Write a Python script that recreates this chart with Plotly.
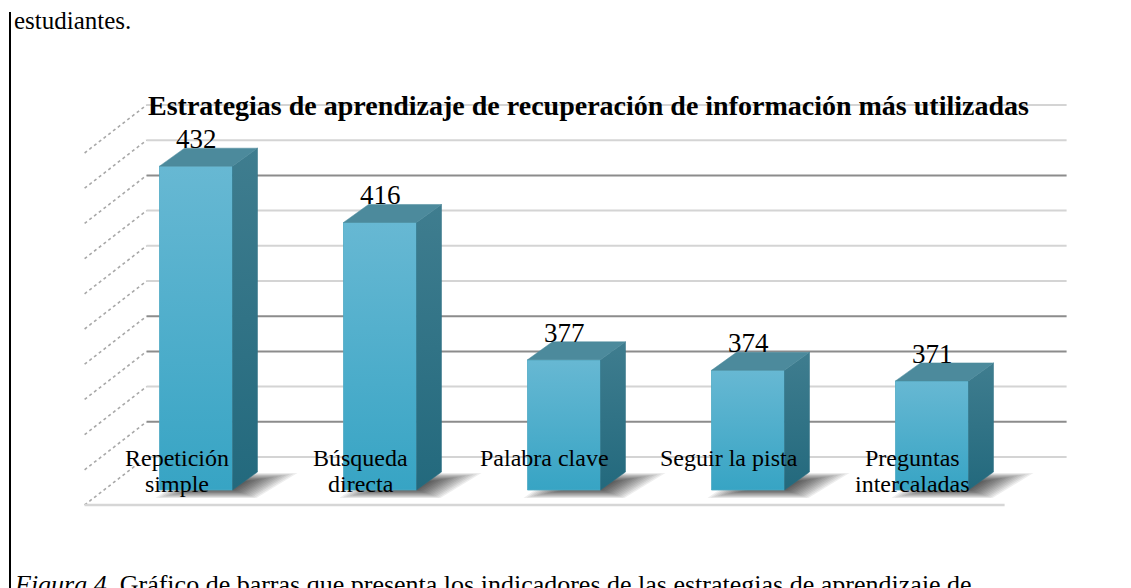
import plotly.graph_objects as go

# ---------------- data ----------------
categories = ["Repetición<br>simple", "Búsqueda<br>directa", "Palabra clave",
              "Seguir la pista", "Preguntas<br>intercaladas"]
values = [432, 416, 377, 374, 371]
grid_values = [340, 350, 360, 370, 380, 390, 400, 410, 420, 430, 440]
dark_grid = [350, 370, 380, 420]
axis_min = 340
chart_title = "Estrategias de aprendizaje de recuperación de información más utilizadas"
doc_top_text = "estudiantes."
caption_italic = "Figura 4."
caption_rest = " Gráfico de barras que presenta los indicadores de las estrategias de aprendizaje de"

# ---------------- geometry (layout constants, page pixels) ----------------
W, H = 1131, 588
OFF = 8                 # default page body margin
FW, FH = W - OFF, H - OFF
PX_CAT = 184.0          # pixels per category
X0_PX = 196.0 - OFF     # first category centre (front plane), figure px
PPU = 3.52              # pixels per value unit
BASE_PX = 490.0 - OFF   # axis_min row on bar front plane, figure px

def ux(px):
    return px / PX_CAT

def uy(px):
    return px / PPU

def yval(page_px):      # page pixel row -> value units
    return axis_min + (BASE_PX - (page_px - OFF)) / PPU

xrange_ = [-X0_PX / PX_CAT, (FW - X0_PX) / PX_CAT]
yrange_ = [axis_min - (FH - BASE_PX) / PPU, axis_min + BASE_PX / PPU]

half_w = ux(36.5)
bar_dx, bar_dy = ux(25), uy(18)
wall_dx, wall_dy = ux(42.6), uy(33)
floor_dx, floor_dy = ux(-19.4), uy(-15)

n = len(values)
x_left_front = -0.5
x_right_front = n - 0.5

fig = go.Figure()

def poly(xs, ys, color=None, grad=None, opacity=1.0, line=None):
    kw = dict(x=xs + [xs[0]], y=ys + [ys[0]], mode="lines", fill="toself",
              line=line or dict(width=0), hoverinfo="skip", showlegend=False,
              opacity=opacity)
    if grad:
        kw["fillgradient"] = dict(type="vertical", colorscale=grad)
    else:
        kw["fillcolor"] = color
    fig.add_trace(go.Scatter(**kw))

# back-wall gridlines and side-wall diagonals
for v in grid_values:
    col = "#8c8c8c" if v in dark_grid else "#d4d4d4"
    fig.add_trace(go.Scatter(
        x=[x_left_front + wall_dx, x_right_front + wall_dx],
        y=[v + wall_dy, v + wall_dy], mode="lines",
        line=dict(color=col, width=2), hoverinfo="skip", showlegend=False))
    fig.add_trace(go.Scatter(
        x=[x_left_front + floor_dx, x_left_front + wall_dx],
        y=[v + floor_dy, v + wall_dy], mode="lines",
        line=dict(color="#a8a8a8", width=1.6, dash="dot"),
        hoverinfo="skip", showlegend=False))

# floor front edge
fig.add_trace(go.Scatter(
    x=[x_left_front + floor_dx, x_right_front + floor_dx],
    y=[axis_min + floor_dy, axis_min + floor_dy], mode="lines",
    line=dict(color="#d6d6d6", width=2.5), hoverinfo="skip", showlegend=False))

# bars
for i, v in enumerate(values):
    xl, xr = i - half_w, i + half_w
    b = axis_min
    # soft shadow on the floor: stacked translucent footprints
    sx = [xl - ux(4), xr + ux(24), xr + bar_dx + ux(40), xl + bar_dx + ux(6)]
    sy = [b - uy(8), b - uy(8), b + bar_dy - uy(1), b + bar_dy - uy(1)]
    cx = sum(sx) / 4 - ux(4)
    cy = sum(sy) / 4
    for k in range(14):
        s = 1.0 - k * 0.05
        poly([cx + (p - cx) * s for p in sx], [cy + (q - cy) * s for q in sy],
             color="rgb(0,0,0)", opacity=0.065)
    # front face
    poly([xl, xr, xr, xl], [b, b, v, v],
         grad=[[0, "#37a4c4"], [1, "#67b8d3"]],
         line=dict(width=0.8, color="#4fa9c4"))
    # side face
    poly([xr, xr + bar_dx, xr + bar_dx, xr], [b, b + bar_dy, v + bar_dy, v],
         grad=[[0, "#23697d"], [1, "#3f7d8f"]],
         line=dict(width=0.5, color="#2c6f82"))
    # top face
    poly([xl, xr, xr + bar_dx, xl + bar_dx], [v, v, v + bar_dy, v + bar_dy],
         color="#4c8a9c", line=dict(width=0.5, color="#4c8a9c"))

annotations = []
serif = "Liberation Serif, Times New Roman, serif"

# value labels
for i, v in enumerate(values):
    annotations.append(dict(x=i, y=v + bar_dy + uy(9), xref="x", yref="y",
                            text=str(v), showarrow=False, xanchor="center",
                            yanchor="middle",
                            font=dict(family=serif, size=27, color="#000")))
# category labels (one annotation per line for tight line spacing)
line_rows = [458, 484]
for i, c in enumerate(categories):
    for j, part in enumerate(c.split("<br>")):
        annotations.append(dict(x=i + floor_dx, y=yval(line_rows[j]), xref="x", yref="y",
                                text=part, showarrow=False, xanchor="center",
                                yanchor="middle",
                                font=dict(family=serif, size=24, color="#000")))
# chart title
annotations.append(dict(x=(588.5 - OFF) / FW, y=1 - (105 - OFF) / FH,
                        xref="paper", yref="paper",
                        text="<b>" + chart_title + "</b>", showarrow=False,
                        xanchor="center", yanchor="middle",
                        font=dict(family=serif, size=28, color="#000")))
# document text
annotations.append(dict(x=(12 - OFF) / FW, y=1 - (21 - OFF) / FH,
                        xref="paper", yref="paper",
                        text=doc_top_text, showarrow=False, xanchor="left",
                        yanchor="middle",
                        font=dict(family=serif, size=25, color="#000")))
annotations.append(dict(x=(12 - OFF) / FW, y=1 - (568 - OFF) / FH,
                        xref="paper", yref="paper",
                        text="<i>" + caption_italic + "</i>" + caption_rest,
                        showarrow=False, xanchor="left", yanchor="top",
                        font=dict(family=serif, size=26, color="#000")))

fig.update_layout(
    width=FW, height=FH,
    margin=dict(l=0, r=0, t=0, b=0),
    paper_bgcolor="white", plot_bgcolor="white",
    xaxis=dict(range=xrange_, visible=False, fixedrange=True),
    yaxis=dict(range=yrange_, visible=False, fixedrange=True),
    annotations=annotations,
    shapes=[dict(type="line", xref="paper", yref="paper",
                 x0=(10 - OFF) / FW, x1=(10 - OFF) / FW, y0=0, y1=1 - (12 - OFF) / FH,
                 line=dict(color="#000", width=2))],
    showlegend=False,
)

fig.write_html("out.html")
